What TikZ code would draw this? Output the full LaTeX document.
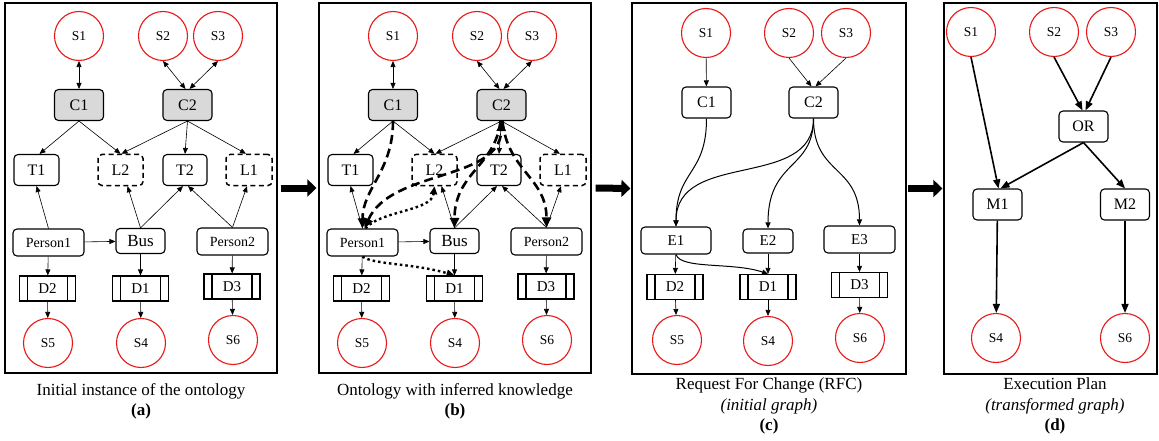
\documentclass[tikz,border=0pt]{standalone}
\usepackage{fontspec}
\setmainfont{Liberation Serif}
\usepackage{xcolor}
\usepackage{tikz}
\usetikzlibrary{arrows.meta}
\definecolor{servicered}{RGB}{232, 24, 24}
\definecolor{ctrlgray}{RGB}{217, 217, 217}

\begin{document}
\begin{tikzpicture}[
    x=1pt, y=-1pt,
    panel/.style={draw, line width=1.2pt, inner sep=0pt},
    service/.style={circle, draw=servicered, line width=1.1pt, minimum size=49pt, inner sep=0pt, font=\fontsize{13.5}{15}\selectfont},
    box/.style={draw, rounded corners=4pt, line width=1.1pt, minimum width=49pt, minimum height=31pt, inner sep=0pt, font=\fontsize{16}{18}\selectfont},
    ctrl/.style={box, fill=ctrlgray},
    lnk/.style={box, dash pattern=on 5pt off 3.5pt, line width=1.5pt},
    agent/.style={box, minimum width=71pt, minimum height=27pt, font=\fontsize{14}{16}\selectfont},
    store/.style={draw, line width=1.1pt, minimum width=56pt, minimum height=25pt, inner sep=0pt, font=\fontsize{15}{17}\selectfont,
        path picture={\draw[line width=1.1pt]
            ([xshift=8pt]path picture bounding box.north west) -- ([xshift=8pt]path picture bounding box.south west)
            ([xshift=-8pt]path picture bounding box.north east) -- ([xshift=-8pt]path picture bounding box.south east);}},
    caption/.style={anchor=north, align=center, inner sep=0pt, font=\fontsize{17}{20.5}\selectfont},
    arrow/.style={-{Triangle[length=6pt, width=5pt]}, line width=0.6pt},
    darrow/.style={{Triangle[length=6pt, width=5pt]}-{Triangle[length=6pt, width=5pt]}, line width=0.6pt},
    carrow/.style={-{Triangle[length=6pt, width=5pt]}, line width=1pt},
    infer/.style={-{Triangle[length=10pt, width=9pt]}, line width=2.6pt, dash pattern=on 9pt off 5pt},
    hint/.style={-{Triangle[length=8pt, width=7pt]}, line width=2.4pt, dash pattern=on 2.5pt off 3pt},
    plan/.style={-{Triangle[length=9pt, width=7pt]}, line width=1.6pt},
    bigarrow/.style={-{Triangle[length=9pt, width=17pt]}, line width=7pt}
]
    \useasboundingbox (0,0) rectangle (1159,441);

    % Panels
    \node[panel, minimum width=272pt, minimum height=370pt] (fa) at (141,188) {};
    \node[panel, minimum width=272pt, minimum height=370pt] (fb) at (455,188) {};
    \node[panel, minimum width=274pt, minimum height=371pt] (fc) at (769,188.5) {};
    \node[panel, minimum width=213pt, minimum height=371pt] (fd) at (1050.5,188.5) {};

    \draw[bigarrow] ([xshift=3pt]fa.east) -- ([xshift=-2pt]fb.west);
    \draw[bigarrow] ([xshift=4pt]fb.east) -- ([xshift=-1pt]fc.west);
    \draw[bigarrow] ([xshift=1pt]fc.east) -- ([xshift=-1pt]fd.west);

    % (a) Initial instance of the ontology
    \node[service] (aS1) at (79,36) {S1};
    \node[service] (aS2) at (163,36) {S2};
    \node[service] (aS3) at (218,36) {S3};
    \node[ctrl] (aC1) at (79,105) {C1};
    \node[ctrl] (aC2) at (187.5,105) {C2};
    \node[box, minimum width=45pt] (aT1) at (36.5,170) {T1};
    \node[lnk, minimum width=45pt] (aL2) at (120.5,170) {L2};
    \node[box, minimum width=44pt] (aT2) at (185,170) {T2};
    \node[lnk, minimum width=46pt] (aL1) at (249,170) {L1};
    \node[agent] (aPerson1) at (48.5,242.5) {Person1};
    \node[box, minimum height=25pt, font=\fontsize{17}{19}\selectfont] (aBus) at (140.5,241) {Bus};
    \node[agent] (aPerson2) at (232.5,241.5) {Person2};
    \node[store] (aD2) at (47.5,288.5) {D2};
    \node[store] (aD1) at (140.5,288.5) {D1};
    \node[store] (aD3) at (232,286.5) {D3};
    \node[service] (aS5) at (48,343) {S5};
    \node[service] (aS4) at (141,343) {S4};
    \node[service] (aS6) at (233,340) {S6};

    \draw[darrow] (aS1) -- (aC1);
    \draw[darrow] (aS2.south) -- ([xshift=-2pt]aC2.north);
    \draw[darrow] (aS3.south) -- ([xshift=2pt]aC2.north);
    \draw[arrow] (aC1.south) -- ([xshift=3pt]aT1.north);
    \draw[arrow] (aC1.south) -- (aL2.north);
    \draw[arrow] (aC2.south) -- ([xshift=1pt]aL2.north);
    \draw[arrow] (aC2.south) -- (aT2.north);
    \draw[arrow] (aC2.south) -- ([xshift=-3pt]aL1.north);
    \draw[arrow] (aPerson1.north) -- (aT1.south);
    \draw[arrow] (aBus.north) -- ([xshift=7pt]aL2.south);
    \draw[arrow] (aBus.north) -- ([xshift=-2pt]aT2.south);
    \draw[arrow] (aPerson2.north) -- ([xshift=3pt]aT2.south);
    \draw[arrow] (aPerson2.north) -- ([xshift=-2pt]aL1.south);
    \draw[arrow] (aPerson1) -- (aBus);
    \draw[arrow] (aPerson1) -- (aD2);
    \draw[arrow] (aBus) -- (aD1);
    \draw[arrow] (aPerson2) -- (aD3);
    \draw[arrow] (aD2) -- (aS5);
    \draw[arrow] (aD1) -- (aS4);
    \draw[arrow] (aD3) -- (aS6);

    \node[caption] (capa) at (141,383) {Initial instance of the ontology\\\textbf{(a)}};

    % (b) Ontology with inferred knowledge
    \node[service] (bS1) at (393,36) {S1};
    \node[service] (bS2) at (477,36) {S2};
    \node[service] (bS3) at (532,36) {S3};
    \node[ctrl] (bC1) at (393,105) {C1};
    \node[ctrl] (bC2) at (501.5,105) {C2};
    \node[box, minimum width=45pt] (bT1) at (350.5,170) {T1};
    \node[lnk, minimum width=45pt] (bL2) at (434.5,170) {L2};
    \node[box, minimum width=44pt] (bT2) at (499,170) {T2};
    \node[lnk, minimum width=46pt] (bL1) at (563,170) {L1};
    \node[agent] (bPerson1) at (362.5,242.5) {Person1};
    \node[box, minimum height=25pt, font=\fontsize{17}{19}\selectfont] (bBus) at (454.5,241) {Bus};
    \node[agent] (bPerson2) at (546.5,241.5) {Person2};
    \node[store] (bD2) at (361.5,288.5) {D2};
    \node[store] (bD1) at (454.5,288.5) {D1};
    \node[store] (bD3) at (546,286.5) {D3};
    \node[service] (bS5) at (362,343) {S5};
    \node[service] (bS4) at (455,343) {S4};
    \node[service] (bS6) at (547,340) {S6};

    \draw[darrow] (bS1) -- (bC1);
    \draw[darrow] (bS2.south) -- ([xshift=-2pt]bC2.north);
    \draw[darrow] (bS3.south) -- ([xshift=2pt]bC2.north);
    \draw[arrow] (bC1.south) -- ([xshift=3pt]bT1.north);
    \draw[arrow] (bC1.south) -- (bL2.north);
    \draw[arrow] (bC2.south) -- ([xshift=1pt]bL2.north);
    \draw[arrow] (bC2.south) -- (bT2.north);
    \draw[arrow] (bC2.south) -- ([xshift=-3pt]bL1.north);
    \draw[arrow] (bPerson1.north) -- (bT1.south);
    \draw[arrow] (bBus.north) -- ([xshift=7pt]bL2.south);
    \draw[arrow] (bBus.north) -- ([xshift=-2pt]bT2.south);
    \draw[arrow] (bPerson2.north) -- ([xshift=3pt]bT2.south);
    \draw[arrow] (bPerson2.north) -- ([xshift=-2pt]bL1.south);
    \draw[arrow] (bPerson1) -- (bBus);
    \draw[arrow] (bPerson1) -- (bD2);
    \draw[arrow] (bBus) -- (bD1);
    \draw[arrow] (bPerson2) -- (bD3);
    \draw[arrow] (bD2) -- (bS5);
    \draw[arrow] (bD1) -- (bS4);
    \draw[arrow] (bD3) -- (bS6);
    % inferred links
    \draw[infer] (bC1.south) .. controls +(0,50) and +(0,-40) .. (bPerson1.north);
    \draw[infer, {Triangle[length=10pt, width=9pt]}-{Triangle[length=10pt, width=9pt]}] ([xshift=2pt]bPerson1.north) .. controls +(26,-59) and +(-1.5,60) .. (bC2.south);
    \draw[infer] ([xshift=-1pt]bC2.south) .. controls +(-5,45) and +(0,-55) .. (bBus.north);
    \draw[infer] ([xshift=1pt]bC2.south) .. controls +(5,50) and +(0,-50) .. (bPerson2.north);
    \draw[hint] ([xshift=3pt]bPerson1.north) .. controls +(15,-18) and +(-3,25) .. (bL2.south);
    \draw[hint] (bPerson1.south) .. controls +(10,8) and +(-40,-12) .. (bD1.north);

    \node[caption] (capb) at (455,383) {Ontology with inferred knowledge\\\textbf{(b)}};

    % (c) Request For Change
    \node[service] (cS1) at (706,33) {S1};
    \node[service] (cS2) at (789,33) {S2};
    \node[service] (cS3) at (846,33) {S3};
    \node[box] (cC1) at (706.5,102.5) {C1};
    \node[box] (cC2) at (813.5,102.5) {C2};
    \node[agent, minimum width=70pt, font=\fontsize{15}{17}\selectfont] (cE1) at (676,240.5) {E1};
    \node[box, minimum width=50pt, minimum height=24pt, font=\fontsize{15}{17}\selectfont] (cE2) at (768,241) {E2};
    \node[agent, font=\fontsize{15}{17}\selectfont] (cE3) at (859.5,239.5) {E3};
    \node[store] (cD2) at (675,287) {D2};
    \node[store] (cD1) at (768,287) {D1};
    \node[store] (cD3) at (859.5,285) {D3};
    \node[service] (cS5) at (677,340) {S5};
    \node[service] (cS4) at (768,341) {S4};
    \node[service] (cS6) at (860,338) {S6};

    \draw[arrow] (cS1) -- (cC1);
    \draw[arrow] (cS2.south) -- ([xshift=-2pt]cC2.north);
    \draw[arrow] (cS3.south) -- ([xshift=2pt]cC2.north);
    \draw[carrow] (cC1.south) .. controls +(0,57) and +(0,-57) .. (cE1.north);
    \draw[carrow] (cC2.south) .. controls +(0,72) and +(0,-77) .. (cE1.north);
    \draw[carrow] (cC2.south) .. controls +(0,52) and +(0,-69) .. (cE2.north);
    \draw[carrow] (cC2.south) .. controls +(0,57) and +(0,-61) .. (cE3.north);
    \draw[arrow] (cE1) -- (cD2);
    \draw[carrow] (cE1.south) .. controls +(5,15) and +(-35,-12) .. (cD1.north);
    \draw[arrow] (cE2) -- (cD1);
    \draw[arrow] (cE3) -- (cD3);
    \draw[arrow] (cD2) -- (cS5);
    \draw[arrow] (cD1) -- (cS4);
    \draw[arrow] (cD3) -- (cS6);

    \node[caption] (capc) at (769,378) {Request For Change (RFC)\\\textit{(initial graph)}\\\textbf{(c)}};

    % (d) Execution Plan
    \node[service] (dS1) at (971,32) {S1};
    \node[service] (dS2) at (1054,32) {S2};
    \node[service] (dS3) at (1111,32) {S3};
    \node[box] (dOR) at (1083.5,126.5) {OR};
    \node[box] (dM1) at (997.5,204.5) {M1};
    \node[box] (dM2) at (1125,204.5) {M2};
    \node[service] (dS4) at (996,338) {S4};
    \node[service] (dS6) at (1125,338) {S6};

    \draw[plan] (dS1.south) -- ([xshift=1pt]dM1.north);
    \draw[plan] (dS2.south) -- ([xshift=-1pt]dOR.north);
    \draw[plan] (dS3.south) -- ([xshift=2pt]dOR.north);
    \draw[plan] (dOR.south) -- ([xshift=3pt]dM1.north);
    \draw[plan] (dOR.south) -- (dM2.north);
    \draw[plan] (dM1) -- (dS4);
    \draw[plan] (dM2) -- (dS6);

    \node[caption] (capd) at (1055,378) {Execution Plan\\\textit{(transformed graph)}\\\textbf{(d)}};

\end{tikzpicture}
\end{document}
